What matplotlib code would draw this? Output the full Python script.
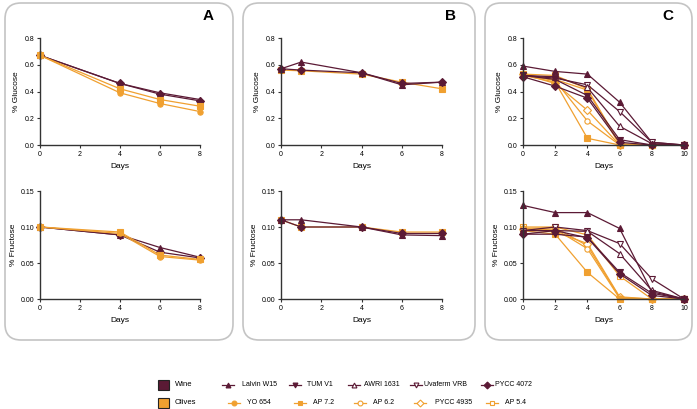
import matplotlib
matplotlib.use("Agg")
import matplotlib.pyplot as plt
from matplotlib.patches import FancyBboxPatch, Rectangle
from matplotlib.ticker import FormatStrFormatter

WINE = "#5b1a35"
OLIVE = "#f0a030"

# strains: name -> (colour, marker, filled)
strains = {
    "Lalvin W15": (WINE, "^", True),
    "TUM V1": (WINE, "v", True),
    "AWRI 1631": (WINE, "^", False),
    "Uvaferm VRB": (WINE, "v", False),
    "PYCC 4072": (WINE, "D", True),
    "YO 654": (OLIVE, "o", True),
    "AP 7.2": (OLIVE, "s", True),
    "AP 6.2": (OLIVE, "o", False),
    "PYCC 4935": (OLIVE, "D", False),
    "AP 5.4": (OLIVE, "s", False),
}

# panel A
days_a = [0, 4, 6, 8]
glu_a = {
    "Lalvin W15": [0.67, 0.46, 0.39, 0.34],
    "PYCC 4072": [0.67, 0.46, 0.38, 0.33],
    "AP 7.2": [0.67, 0.42, 0.34, 0.29],
    "YO 654": [0.67, 0.39, 0.31, 0.25],
}
fru_a = {
    "Lalvin W15": [0.10, 0.089, 0.0715, 0.058],
    "PYCC 4072": [0.10, 0.089, 0.065, 0.057],
    "AP 7.2": [0.10, 0.093, 0.061, 0.055],
    "YO 654": [0.10, 0.091, 0.059, 0.054],
}

# panel B
days_b = [0, 1, 4, 6, 8]
glu_b = {
    "AP 7.2": [0.56, 0.555, 0.53, 0.47, 0.42],
    "Lalvin W15": [0.57, 0.62, 0.54, 0.45, 0.47],
    "PYCC 4072": [0.57, 0.56, 0.54, 0.46, 0.47],
}
fru_b = {
    "AP 7.2": [0.11, 0.10, 0.10, 0.093, 0.093],
    "Lalvin W15": [0.11, 0.11, 0.10, 0.089, 0.088],
    "PYCC 4072": [0.11, 0.10, 0.10, 0.091, 0.091],
}

# panel C
days_c = [0, 2, 4, 6, 8, 10]
glu_c = {
    "AP 5.4": [0.53, 0.52, 0.42, 0.01, 0.0, 0.0],
    "YO 654": [0.52, 0.49, 0.41, 0.0, 0.0, 0.0],
    "PYCC 4935": [0.53, 0.46, 0.26, 0.0, 0.0, 0.0],
    "AP 6.2": [0.53, 0.48, 0.18, 0.0, 0.0, 0.0],
    "AP 7.2": [0.52, 0.47, 0.05, 0.0, 0.0, 0.0],
    "Lalvin W15": [0.59, 0.55, 0.53, 0.32, 0.02, 0.0],
    "Uvaferm VRB": [0.52, 0.50, 0.45, 0.25, 0.02, 0.0],
    "AWRI 1631": [0.52, 0.51, 0.43, 0.14, 0.01, 0.0],
    "TUM V1": [0.52, 0.49, 0.37, 0.04, 0.0, 0.0],
    "PYCC 4072": [0.51, 0.44, 0.35, 0.02, 0.0, 0.0],
}
fru_c = {
    "AP 5.4": [0.10, 0.10, 0.089, 0.032, 0.0, 0.0],
    "YO 654": [0.098, 0.099, 0.074, 0.002, 0.0, 0.0],
    "PYCC 4935": [0.097, 0.093, 0.077, 0.003, 0.0, 0.0],
    "AP 6.2": [0.096, 0.097, 0.070, 0.001, 0.0, 0.0],
    "AP 7.2": [0.095, 0.090, 0.037, 0.0, 0.0, 0.0],
    "Lalvin W15": [0.13, 0.12, 0.12, 0.098, 0.01, 0.0],
    "Uvaferm VRB": [0.095, 0.10, 0.095, 0.077, 0.028, 0.0],
    "AWRI 1631": [0.095, 0.095, 0.094, 0.063, 0.012, 0.0],
    "TUM V1": [0.09, 0.09, 0.086, 0.037, 0.008, 0.0],
    "PYCC 4072": [0.09, 0.095, 0.085, 0.035, 0.005, 0.0],
}

wine_names = ["Lalvin W15", "TUM V1", "AWRI 1631", "Uvaferm VRB", "PYCC 4072"]
olive_names = ["YO 654", "AP 7.2", "AP 6.2", "PYCC 4935", "AP 5.4"]

plt.rcParams["font.family"] = ["Liberation Sans", "DejaVu Sans"]

W, H = 697, 409
fig = plt.figure(figsize=(W / 100, H / 100), dpi=100)
fig.patch.set_facecolor("white")


def px(x0, y0, x1, y1):
    # pixel box (top-left origin) -> figure fraction rect
    return [x0 / W, 1 - y1 / H, (x1 - x0) / W, (y1 - y0) / H]


# rounded panel frames
for x0, x1 in [(5, 233), (243, 475), (485, 692)]:
    box = FancyBboxPatch((x0 / 100, (H - 340) / 100), (x1 - x0) / 100, 337 / 100,
                         boxstyle="round,pad=0,rounding_size=0.16",
                         transform=fig.dpi_scale_trans, facecolor="none",
                         edgecolor="#c4c4c4", linewidth=1.2)
    fig.add_artist(box)


def draw(ax, days, data, xmax, ymax, ystep, fmt, ylabel):
    for name, vals in data.items():
        col, mk, filled = strains[name]
        ax.plot(days, vals, color=col, lw=0.9, marker=mk, ms=3.8,
                mfc=col if filled else "white", mec=col, mew=0.8, clip_on=False)
    ax.set_xlim(0, xmax)
    ax.set_ylim(0, ymax)
    ax.set_xticks(range(0, xmax + 1, 2))
    n = int(round(ymax / ystep))
    ax.set_yticks([i * ystep for i in range(n + 1)])
    ax.yaxis.set_major_formatter(FormatStrFormatter(fmt))
    for s in ["top", "right"]:
        ax.spines[s].set_visible(False)
    for s in ["left", "bottom"]:
        ax.spines[s].set_color("#333333")
        ax.spines[s].set_linewidth(1.0)
    ax.tick_params(labelsize=5, length=2.5, width=0.8, color="#333333", pad=1.5)
    ax.set_xlabel("Days", fontsize=6, labelpad=4)
    ax.set_ylabel(ylabel, fontsize=6, labelpad=3)
    ax.patch.set_alpha(0)


axes_x = [(40, 200, 8), (281, 442, 8), (523, 684, 10)]
tops = [glu_a, glu_b, glu_c]
bots = [fru_a, fru_b, fru_c]
days_all = [days_a, days_b, days_c]
for (x0, x1, xm), d, g, f in zip(axes_x, days_all, tops, bots):
    ax1 = fig.add_axes(px(x0, 38, x1, 145))
    draw(ax1, d, g, xm, 0.8, 0.2, "%.1f", "% Glucose")
    ax2 = fig.add_axes(px(x0, 191, x1, 299))
    draw(ax2, d, f, xm, 0.15, 0.05, "%.2f", "% Fructose")

for lab, x in [("A", 208), ("B", 450), ("C", 668)]:
    fig.text(x / W, 1 - 16 / H, lab, fontsize=11, fontweight="bold",
             ha="center", va="center")

# legend drawn in a pixel-coordinate axes
lg = fig.add_axes([0, 0, 1, 1], zorder=-1)
lg.set_xlim(0, W)
lg.set_ylim(H, 0)
lg.axis("off")
for y, col, lab in [(385, WINE, "Wine"), (403, OLIVE, "Olives")]:
    lg.add_patch(Rectangle((158, y - 5), 11, 10, facecolor=col, edgecolor="#222222", lw=0.8))
    lg.text(175, y, lab, fontsize=5.5, va="center", ha="left")

wine_pos = [(228, 242), (295, 307), (354, 364), (416, 424), (487, 495)]
olive_pos = [(234, 247), (300, 313), (360, 373), (420, 435), (492, 505)]
for names, pos, y in [(wine_names, wine_pos, 385), (olive_names, olive_pos, 403)]:
    for name, (mx, tx) in zip(names, pos):
        col, mk, filled = strains[name]
        lg.plot([mx - 6, mx + 6], [y, y], color=col, lw=0.9)
        lg.plot([mx], [y], marker=mk, ms=3.5, color=col,
                mfc=col if filled else "white", mec=col, mew=0.8)
        lg.text(tx, y, name, fontsize=5, va="center", ha="left")

fig.savefig("out.png", dpi=100)
